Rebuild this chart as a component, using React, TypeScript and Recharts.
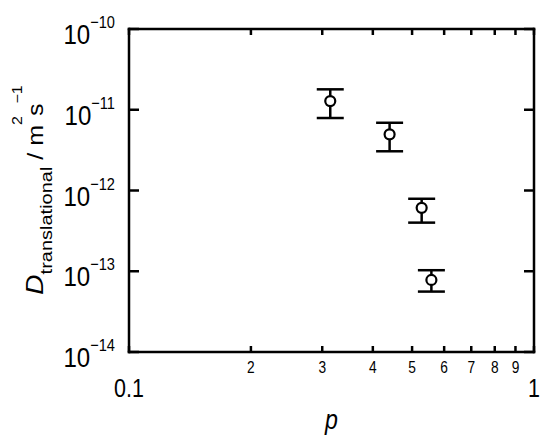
import { ScatterChart, Scatter, XAxis, YAxis, ErrorBar } from "recharts";

// volume fraction p and translational diffusion coefficient (m^2 s^-1)
const pValues = [0.314, 0.44, 0.528, 0.558];
const dValues = [1.28e-11, 4.96e-12, 6.1e-13, 7.8e-14];
const dLower = [7.9e-12, 3.06e-12, 4.0e-13, 5.6e-14];
const dUpper = [1.79e-11, 6.9e-12, 7.9e-13, 1.03e-13];

const xTicks = [0.1, 0.2, 0.3, 0.4, 0.5, 0.6, 0.7, 0.8, 0.9, 1];
const xTickLabels = ["0.1", "2", "3", "4", "5", "6", "7", "8", "9", "1"];
const yTicks = [1e-14, 1e-13, 1e-12, 1e-11, 1e-10];
const yTickExps = ["\u221214", "\u221213", "\u221212", "\u221211", "\u221210"];

const data = pValues.map((p, i) => ({
  p,
  d: dValues[i],
  err: [dValues[i] - dLower[i], dUpper[i] - dValues[i]],
}));

const FONT = "'Liberation Sans', Arial, Helvetica, sans-serif";
const SQX = 0.86; // glyphs in the figure are a bit narrow
const X_TICK = 6;
const Y_TICK = 10;

const findIdx = (arr: number[], v: number) =>
  arr.findIndex((t) => Math.abs(t - v) / t < 1e-6);

const isDecade = (v: number) => Math.abs(Math.log10(v) - Math.round(Math.log10(v))) < 1e-6;

// ticks point inwards, so x/y handed in is the inner end of the tick line
const BottomTick = (props: any) => {
  const { x, y, payload } = props;
  const v = payload.value;
  const i = findIdx(xTicks, v);
  const major = isDecade(v);
  const base = y + X_TICK;
  return (
    <text
      transform={`translate(${x},${base + (major ? 45 : 20.5)}) scale(${SQX},1)`}
      textAnchor="middle"
      fontFamily={FONT}
      fontSize={major ? 25 : 16}
      fill="#000"
    >
      {xTickLabels[i]}
    </text>
  );
};

const LeftTick = (props: any) => {
  const { x, y, payload } = props;
  const i = findIdx(yTicks, payload.value);
  const base = x - Y_TICK;
  return (
    <text
      transform={`translate(${base - 14},${y + 15}) scale(${SQX},1)`}
      textAnchor="end"
      fontFamily={FONT}
      fill="#000"
    >
      <tspan fontSize={28}>10</tspan>
      <tspan fontSize={17} dy={-16}>{yTickExps[i]}</tspan>
    </text>
  );
};

const NoLabel = () => <g />;

const YTitle = () => (
  <text
    transform={`translate(43,190) rotate(-90) scale(1,${SQX})`}
    textAnchor="middle"
    fontFamily={FONT}
    fill="#000"
  >
    <tspan fontSize={28} fontStyle="italic">D</tspan>
    <tspan fontSize={20} dy={10}>translational</tspan>
    <tspan fontSize={25} dy={-10}> / m</tspan>
    <tspan fontSize={16} dy={-25}>2</tspan>
    <tspan fontSize={25} dy={25}>s</tspan>
    <tspan fontSize={16} dy={-25}>{"\u22121"}</tspan>
  </text>
);

const XTitle = () => (
  <text
    transform={`translate(331.5,429) scale(${SQX},1)`}
    textAnchor="middle"
    fontFamily={FONT}
    fontSize={27}
    fontStyle="italic"
    fill="#000"
  >
    p
  </text>
);

const Dot = (props: any) => (
  <circle cx={props.cx} cy={props.cy} r={5} fill="#fff" stroke="#000" strokeWidth={2.2} />
);

const Nothing = () => <g />;

const axisLine = { stroke: "#000", strokeWidth: 2.5, strokeLinecap: "square" as const };
const tickLine = { stroke: "#000", strokeWidth: 2.5 };

export default function App() {
  return (
    <div style={{ position: "absolute", left: 0, top: 0, background: "#fff" }}>
      <ScatterChart width={550} height={446} margin={{ top: 28, right: 15, bottom: 24, left: 0 }}>
        <XAxis
          dataKey="p"
          type="number"
          scale="log"
          domain={[0.1, 1]}
          allowDataOverflow
          ticks={xTicks}
          interval={0}
          height={70}
          tickSize={-X_TICK}
          tickMargin={0}
          tickLine={tickLine}
          axisLine={axisLine}
          tick={BottomTick}
          label={{ content: XTitle }}
        />
        <XAxis
          xAxisId="top"
          dataKey="p"
          orientation="top"
          type="number"
          scale="log"
          domain={[0.1, 1]}
          allowDataOverflow
          ticks={xTicks}
          interval={0}
          height={1}
          tickSize={-X_TICK}
          tickMargin={0}
          tickLine={tickLine}
          axisLine={axisLine}
          tick={NoLabel}
        />
        <YAxis
          dataKey="d"
          type="number"
          scale="log"
          domain={[1e-14, 1e-10]}
          allowDataOverflow
          ticks={yTicks}
          interval={0}
          width={129}
          tickSize={-Y_TICK}
          tickMargin={0}
          tickLine={tickLine}
          axisLine={axisLine}
          tick={LeftTick}
          label={{ content: YTitle }}
        />
        <YAxis
          yAxisId="right"
          dataKey="d"
          orientation="right"
          type="number"
          scale="log"
          domain={[1e-14, 1e-10]}
          allowDataOverflow
          ticks={yTicks}
          interval={0}
          width={1}
          tickSize={-Y_TICK}
          tickMargin={0}
          tickLine={tickLine}
          axisLine={axisLine}
          tick={NoLabel}
        />
        <Scatter
          data={data}
          xAxisId="top"
          yAxisId="right"
          shape={Nothing}
          isAnimationActive={false}
        />
        <Scatter data={data} shape={Dot} isAnimationActive={false}>
          <ErrorBar dataKey="err" direction="y" width={13.5} strokeWidth={2.5} stroke="#000" />
        </Scatter>
      </ScatterChart>
    </div>
  );
}
